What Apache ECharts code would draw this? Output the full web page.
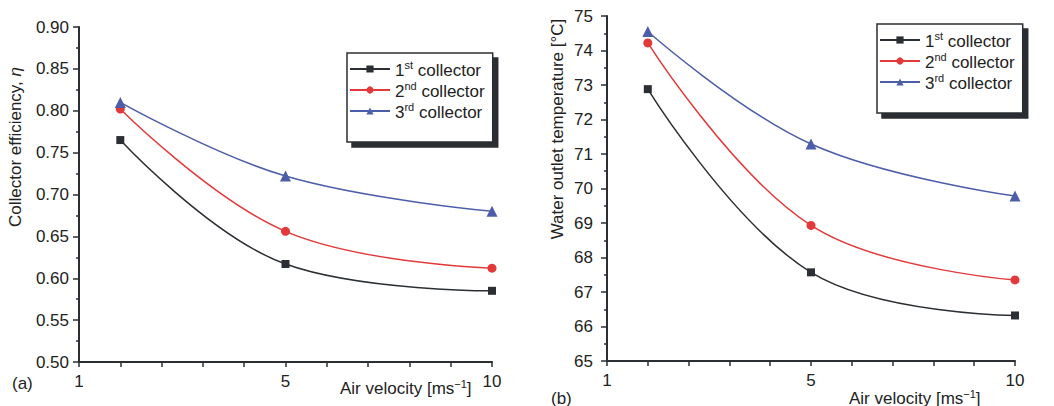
<!DOCTYPE html>
<html>
<head>
<meta charset="utf-8">
<title>Collector efficiency and water outlet temperature</title>
<script src="https://cdn.jsdelivr.net/npm/echarts@6/dist/echarts.min.js"></script>
<style>
	html, body { margin: 0; padding: 0; background: #fff; }
	#chart { width: 1054px; height: 406px; }
</style>
</head>
<body>
<div id="chart"></div>
<script>
// air velocity points [m/s]
const xValues = [1, 5, 10];
const xTickValues = [0, 5, 10];
const xTickLabels = ['1', '5', '10'];

const seriesNames = ['1st collector', '2nd collector', '3rd collector'];
const ordinals = ['1', '2', '3'];
const suffixes = ['st', 'nd', 'rd'];

// (a) collector efficiency
const effFirst = [0.765, 0.617, 0.585];
const effSecond = [0.802, 0.656, 0.612];
const effThird = [0.810, 0.722, 0.680];

// (b) water outlet temperature [°C]
const tempFirst = [72.88, 67.57, 66.32];
const tempSecond = [74.22, 68.93, 67.35];
const tempThird = [74.55, 71.29, 69.78];

const FONT = '"Liberation Sans", Arial, sans-serif';
const FS = 17;
const INK = '#2b2f33';
const colors = ['#2b2f33', '#e23a3b', '#4c5ea9'];
const symbols = ['rect', 'circle', 'triangle'];
const symbolSizes = [8, 9, 11];

const chart = echarts.init(document.getElementById('chart'), null, { renderer: 'svg' });

function xAxis(gridIndex) {
	return {
		gridIndex,
		type: 'value',
		min: 0,
		max: 10,
		interval: 1,
		axisLine: { lineStyle: { color: INK, width: 2 } },
		axisTick: { length: 5, lineStyle: { color: INK, width: 1.5 } },
		splitLine: { show: false },
		axisLabel: {
			margin: 11,
			fontFamily: FONT,
			fontSize: FS,
			color: '#222',
			showMinLabel: true,
			showMaxLabel: true,
			formatter: (v) => {
				const i = xTickValues.indexOf(v);
				return i >= 0 ? xTickLabels[i] : '';
			},
		},
	};
}

function yAxis(gridIndex, min, max, interval, digits, margin) {
	return {
		gridIndex,
		type: 'value',
		min,
		max,
		interval,
		axisLine: { show: true, lineStyle: { color: INK, width: 2 } },
		axisTick: { length: 6, lineStyle: { color: INK, width: 1.5 } },
		minorTick: { show: true, splitNumber: 2, length: 3, lineStyle: { color: INK, width: 1.5 } },
		splitLine: { show: false },
		axisLabel: {
			margin,
			fontFamily: FONT,
			fontSize: FS,
			color: '#222',
			formatter: (v) => v.toFixed(digits),
		},
	};
}

function lineSeries(idx, values, axisIndex) {
	return {
		name: seriesNames[idx],
		type: 'line',
		xAxisIndex: axisIndex,
		yAxisIndex: axisIndex,
		smooth: 0.4,
		symbol: symbols[idx],
		symbolSize: symbolSizes[idx],
		itemStyle: { color: colors[idx] },
		lineStyle: { color: colors[idx], width: 1.5 },
		data: xValues.map((x, i) => [x, values[i]]),
	};
}

function legend(left, top) {
	return {
		data: seriesNames,
		orient: 'vertical',
		left,
		top,
		selectedMode: false,
		itemWidth: 40,
		itemHeight: 9,
		itemGap: 1,
		padding: [6, 8, 21, 2],
		backgroundColor: '#fff',
		borderColor: INK,
		borderWidth: 1.5,
		borderRadius: 0,
		shadowColor: INK,
		shadowBlur: 0,
		shadowOffsetX: 5,
		shadowOffsetY: 5,
		formatter: (name) => {
			const i = seriesNames.indexOf(name);
			return `{n|${ordinals[i]}}{s|${suffixes[i]}}{n| collector}`;
		},
		textStyle: {
			fontFamily: FONT,
			color: '#222',
			rich: {
				n: { fontFamily: FONT, fontSize: FS, color: '#222', lineHeight: 20, verticalAlign: 'bottom' },
				s: { fontFamily: FONT, fontSize: 11, color: '#222', lineHeight: 20, verticalAlign: 'top' },
			},
		},
	};
}

const supRich = { s: { fontFamily: FONT, fontSize: 11, fill: '#222', verticalAlign: 'top', lineHeight: 20 } };

const option = {
	backgroundColor: '#fff',
	animation: false,
	grid: [
		{ left: 79, top: 27, width: 413, height: 335 },
		{ left: 607, top: 16, width: 408, height: 345 },
	],
	xAxis: [xAxis(0), xAxis(1)],
	yAxis: [yAxis(0, 0.5, 0.9, 0.05, 2, 10), yAxis(1, 65, 75, 1, 0, 14)],
	legend: [legend(347, 53), legend(877, 24)],
	series: [
		lineSeries(0, effFirst, 0),
		lineSeries(1, effSecond, 0),
		lineSeries(2, effThird, 0),
		lineSeries(0, tempFirst, 1),
		lineSeries(1, tempSecond, 1),
		lineSeries(2, tempThird, 1),
	],
	graphic: [
		{
			type: 'text', x: 15, y: 147, rotation: Math.PI / 2,
			style: {
				text: 'Collector efficiency, {i|η}', fontFamily: FONT, fontSize: FS, fill: '#222',
				align: 'center', verticalAlign: 'middle',
				rich: { i: { fontFamily: FONT, fontSize: FS, fontStyle: 'italic', fill: '#222' } },
			},
		},
		{
			type: 'text', x: 557, y: 129, rotation: Math.PI / 2,
			style: {
				text: 'Water outlet temperature [°C]', fontFamily: FONT, fontSize: FS, fill: '#222',
				align: 'center', verticalAlign: 'middle',
			},
		},
		{
			type: 'text', x: 340, y: 388,
			style: {
				text: 'Air velocity [ms{s|−1}]', fontFamily: FONT, fontSize: FS, fill: '#222',
				verticalAlign: 'middle', rich: supRich,
			},
		},
		{
			type: 'text', x: 849, y: 398,
			style: {
				text: 'Air velocity [ms{s|−1}]', fontFamily: FONT, fontSize: FS, fill: '#222',
				verticalAlign: 'middle', rich: supRich,
			},
		},
		{ type: 'text', x: 12, y: 383, style: { text: '(a)', fontFamily: FONT, fontSize: FS, fill: '#222', verticalAlign: 'middle' } },
		{ type: 'text', x: 551, y: 398, style: { text: '(b)', fontFamily: FONT, fontSize: FS, fill: '#222', verticalAlign: 'middle' } },
	],
};

chart.setOption(option);
</script>
</body>
</html>
